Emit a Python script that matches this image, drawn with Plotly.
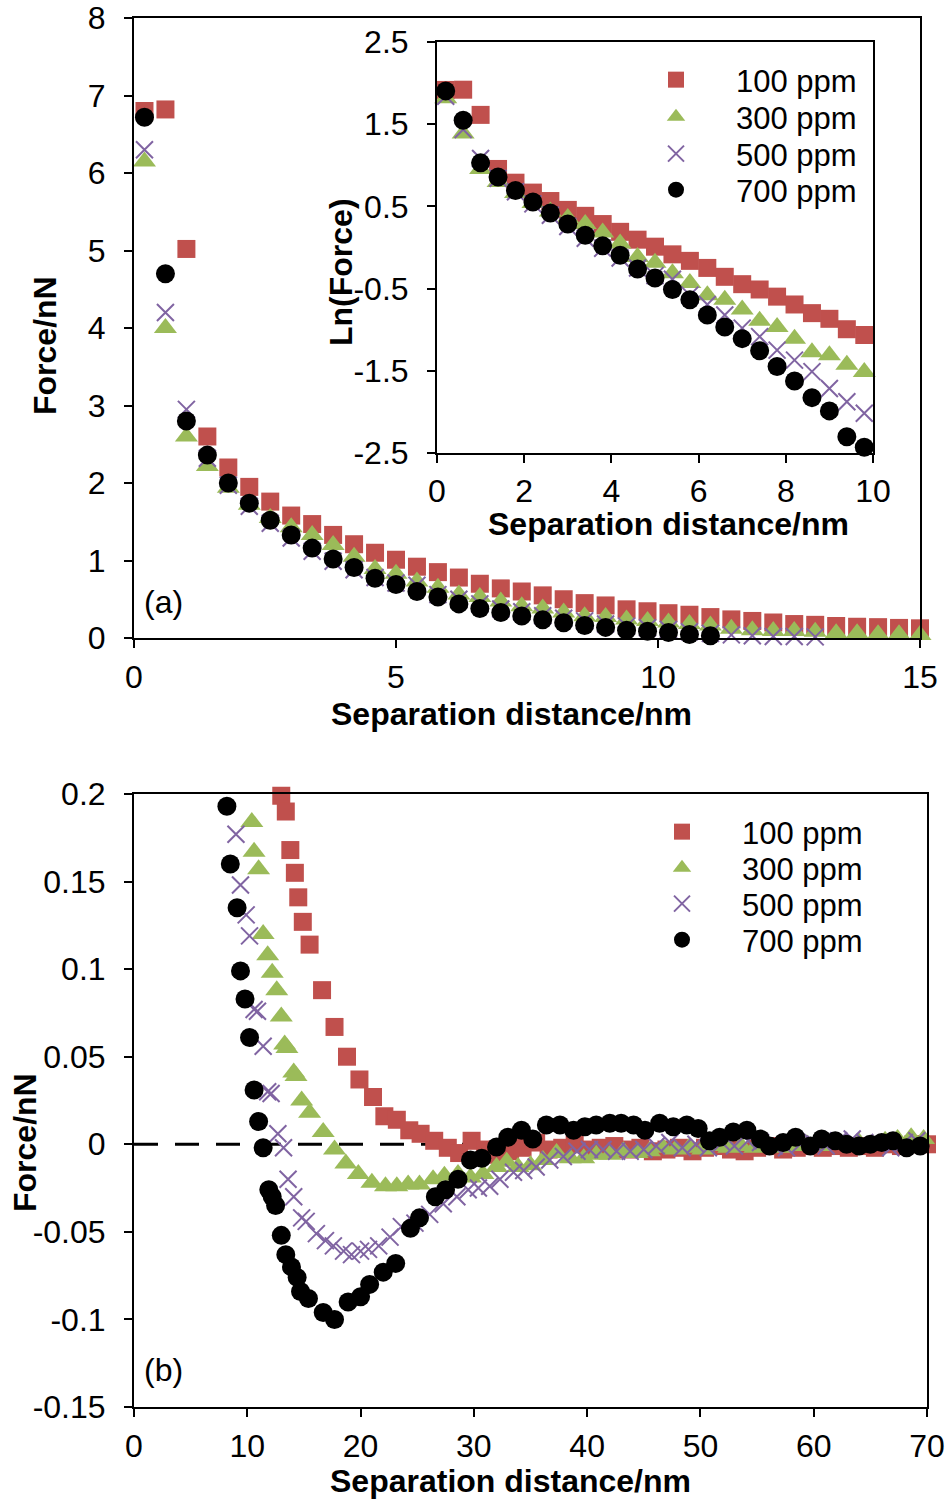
import numpy as np
import plotly.graph_objects as go

W, H = 947, 1500

# ---------------- data ----------------
series_names = ["100 ppm", "300 ppm", "500 ppm", "700 ppm"]
colors = ["#C0504D", "#9BBB59", "#8064A2", "#000000"]

# panel (a): separation distance (nm) and force (nN)
sep_a = [0.2, 0.6, 1.0, 1.4, 1.8, 2.2, 2.6, 3.0, 3.4, 3.8, 4.2, 4.6, 5.0, 5.4,
         5.8, 6.2, 6.6, 7.0, 7.4, 7.8, 8.2, 8.6, 9.0, 9.4, 9.8, 10.2, 10.6,
         11.0, 11.4, 11.8, 12.2, 12.6, 13.0, 13.4, 13.8, 14.2, 14.6, 15.0]

force_100 = [6.80, 6.82, 5.02, 2.60, 2.20, 1.95, 1.76, 1.58, 1.47, 1.33, 1.21,
             1.10, 1.01, 0.92, 0.85, 0.78, 0.70, 0.64, 0.60, 0.55, 0.50, 0.45,
             0.42, 0.37, 0.345, 0.32, 0.30, 0.27, 0.24, 0.22, 0.20, 0.18, 0.17,
             0.155, 0.145, 0.14, 0.13, 0.125]
force_300 = [6.15, 4.00, 2.60, 2.22, 1.94, 1.72, 1.55, 1.43, 1.33, 1.20, 1.05,
             0.89, 0.83, 0.73, 0.65, 0.56, 0.53, 0.47, 0.41, 0.38, 0.33, 0.28,
             0.27, 0.24, 0.22, 0.20, 0.18, 0.16, 0.12, 0.10, 0.09, 0.09, 0.08,
             0.06, 0.06, 0.05, 0.05, 0.04]
force_500 = [6.30, 4.20, 2.95, 2.32, 1.97, 1.70, 1.48, 1.29, 1.12, 0.99, 0.88,
             0.78, 0.71, 0.68, 0.56, 0.50, 0.44, 0.375, 0.338, 0.287, 0.254,
             0.221, 0.180, 0.153, 0.133, 0.11, 0.08, 0.06, 0.04, 0.03, 0.02,
             0.02, 0.015]
force_700 = [6.72, 4.70, 2.80, 2.36, 2.00, 1.74, 1.52, 1.33, 1.16, 1.02, 0.91,
             0.77, 0.69, 0.60, 0.53, 0.44, 0.38, 0.33, 0.285, 0.235, 0.197,
             0.161, 0.137, 0.100, 0.088, 0.07, 0.045, 0.03]

# panel (b): long-range force profiles
sep_b_100 = [13.0, 13.4, 13.8, 14.2, 14.5, 14.9, 15.5, 16.6, 17.7, 18.8, 19.9,
             21.1, 22.1, 23.2, 24.3, 25.3, 26.5, 27.7, 28.7, 29.8, 31.0, 32.1,
             33.2, 34.3, 35.5, 36.6, 37.8, 38.9, 40.1, 41.2, 42.4, 43.5, 44.7,
             45.8, 47.0, 48.1, 49.3, 50.4, 51.6, 52.7, 53.9, 55.0, 56.2, 57.3,
             58.5, 59.6, 60.8, 61.9, 63.1, 64.2, 65.4, 66.5, 67.7, 68.8, 70.0]
force_b_100 = [0.199, 0.190, 0.168, 0.155, 0.141, 0.127, 0.114, 0.088, 0.067,
               0.050, 0.037, 0.027, 0.016, 0.014, 0.008, 0.006, 0.002, -0.002,
               -0.005, 0.002, -0.003, -0.006, -0.004, -0.002, 0.001, -0.003,
               -0.002, 0.000, -0.003, -0.002, -0.001, -0.003, -0.002, -0.004,
               -0.003, -0.002, -0.004, -0.002, -0.001, -0.003, -0.004, -0.002,
               -0.001, -0.003, -0.002, -0.001, -0.002, -0.001, -0.002, -0.001,
               -0.002, 0.000, -0.001, 0.000, 0.000]

sep_b_300 = [10.4, 10.6, 11.0, 11.4, 11.8, 12.2, 12.6, 13.0, 13.3, 13.5, 14.1,
             14.3, 14.8, 15.5, 16.7, 17.7, 18.7, 19.8, 21.0, 22.2, 23.2, 24.2,
             25.2, 26.4, 27.4, 28.6, 29.7, 30.8, 32.0, 32.9, 33.9, 35.0, 36.1,
             37.3, 38.5, 39.7, 40.8, 42.0, 43.2, 44.4, 45.5, 46.7, 47.8, 49.0,
             50.2, 51.3, 52.5, 53.6, 54.8, 55.9, 57.1, 58.2, 59.4, 60.5, 61.7,
             62.8, 64.0, 65.1, 66.3, 67.4, 68.6, 69.7]
force_b_300 = [0.184, 0.167, 0.157, 0.120, 0.108, 0.098, 0.088, 0.073, 0.057,
               0.055, 0.041, 0.039, 0.025, 0.018, 0.007, -0.003, -0.011, -0.017,
               -0.022, -0.024, -0.024, -0.023, -0.023, -0.020, -0.018, -0.017,
               -0.019, -0.017, -0.013, -0.010, -0.013, -0.012, -0.009, -0.005,
               -0.008, -0.008, -0.006, -0.006, -0.004, -0.005, -0.004, -0.002,
               -0.003, -0.002, -0.003, -0.001, -0.002, -0.001, -0.002, 0.000,
               -0.002, -0.001, 0.000, -0.001, 0.001, 0.000, 0.001, 0.000, 0.002,
               0.003, 0.004, 0.003]

sep_b_500 = [9.0, 9.4, 9.9, 10.2, 10.6, 10.9, 11.4, 11.8, 12.1, 12.7, 13.2,
             13.6, 14.1, 14.8, 15.2, 16.1, 16.9, 17.6, 18.5, 19.2, 20.0, 20.7,
             21.6, 22.6, 23.6, 24.8, 26.1, 27.3, 28.5, 29.5, 30.4, 31.4, 32.3,
             33.5, 34.4, 35.5, 36.7, 37.9, 39.1, 40.2, 41.4, 42.6, 43.8, 45.0,
             46.1, 47.3, 48.4, 49.6, 50.7, 51.9, 53.0, 54.2, 55.3, 56.5, 57.6,
             58.8, 59.9, 61.1, 62.2, 63.4, 64.5, 65.7, 66.8, 68.0, 69.1]
force_b_500 = [0.177, 0.148, 0.131, 0.119, 0.077, 0.076, 0.056, 0.030, 0.029,
               0.006, -0.002, -0.020, -0.030, -0.042, -0.044, -0.051, -0.055,
               -0.058, -0.061, -0.063, -0.061, -0.060, -0.058, -0.053, -0.047,
               -0.045, -0.040, -0.034, -0.030, -0.026, -0.025, -0.024, -0.020,
               -0.016, -0.015, -0.013, -0.009, -0.007, -0.004, -0.003, -0.003,
               -0.004, -0.004, -0.003, -0.001, 0.001, -0.002, 0.000, -0.002,
               0.001, -0.001, 0.002, 0.001, -0.001, -0.002, 0.000, 0.001, -0.001,
               0.002, 0.003, 0.001, 0.000, -0.002, 0.001, 0.002]

sep_b_700 = [8.2, 8.5, 9.1, 9.4, 9.8, 10.2, 10.6, 11.0, 11.4, 11.9, 12.2, 12.5,
             13.0, 13.4, 13.9, 14.4, 14.7, 15.4, 16.7, 17.7, 18.9, 20.0, 20.8,
             22.0, 23.1, 24.4, 25.2, 26.6, 27.5, 28.6, 29.7, 30.7, 32.0, 33.0,
             34.2, 35.2, 36.4, 37.6, 38.8, 39.8, 40.8, 42.0, 43.0, 44.1, 45.1,
             46.4, 47.6, 48.8, 49.8, 50.8, 51.7, 52.9, 54.1, 55.3, 56.1, 57.3,
             58.4, 59.7, 60.7, 61.9, 62.9, 64.0, 65.0, 66.0, 67.0, 68.2, 69.4]
force_b_700 = [0.193, 0.160, 0.135, 0.099, 0.083, 0.061, 0.031, 0.013, -0.002,
               -0.026, -0.030, -0.035, -0.052, -0.063, -0.070, -0.076, -0.084,
               -0.088, -0.096, -0.100, -0.090, -0.087, -0.080, -0.073, -0.068,
               -0.048, -0.042, -0.030, -0.026, -0.020, -0.009, -0.008, -0.0015,
               0.004, 0.008, 0.003, 0.011, 0.011, 0.008, 0.010, 0.011, 0.012,
               0.012, 0.011, 0.008, 0.012, 0.010, 0.011, 0.009, 0.002, 0.004,
               0.007, 0.008, 0.003, -0.001, 0.001, 0.004, -0.001, 0.003, 0.002,
               0.000, -0.001, 0.000, 0.001, 0.002, -0.002, -0.001]

# tick labels
ticks_a_x = [0, 5, 10, 15]
ticks_a_y = [0, 1, 2, 3, 4, 5, 6, 7, 8]
ticks_in_x = [0, 2, 4, 6, 8, 10]
ticks_in_y = [-2.5, -1.5, -0.5, 0.5, 1.5, 2.5]
ticks_in_y_text = ["-2.5", "-1.5", "-0.5", "0.5", "1.5", "2.5"]
ticks_b_x = [0, 10, 20, 30, 40, 50, 60, 70]
ticks_b_y = [-0.15, -0.1, -0.05, 0, 0.05, 0.1, 0.15, 0.2]
ticks_b_y_text = ["-0.15", "-0.1", "-0.05", "0", "0.05", "0.1", "0.15", "0.2"]

# ---------------- styling ----------------
FONT = "Liberation Sans, Arial, sans-serif"
FS = 32
LEG_FS = 31


def marker_style(i):
    c = colors[i]
    if i == 0:
        return dict(symbol="square", size=18, color=c, line=dict(width=0))
    if i == 1:
        return dict(symbol="triangle-up", size=20, color=c, line=dict(width=0))
    if i == 2:
        return dict(symbol="x-thin-open", size=17, color=c, line=dict(width=2, color=c))
    return dict(symbol="circle", size=19, color=c, line=dict(width=0))


def px_x(p):
    return p / W


def px_y(p):
    return 1 - p / H


fig = go.Figure()

forces_a = [force_100, force_300, force_500, force_700]
sep_b = [sep_b_100, sep_b_300, sep_b_500, sep_b_700]
forces_b = [force_b_100, force_b_300, force_b_500, force_b_700]

# one single-entry legend per row, so each row can be placed on its own
inset_legend_ids = ["legend", "legend2", "legend3", "legend4"]
lower_legend_ids = ["legend5", "legend6", "legend7", "legend8"]
inset_rows = [80, 117, 154, 190]
lower_rows = [832, 868, 904, 940]

# panel (a) main
for i, f in enumerate(forces_a):
    fig.add_trace(go.Scatter(x=sep_a[:len(f)], y=f, mode="markers",
                             marker=marker_style(i), name=series_names[i],
                             showlegend=False, cliponaxis=False,
                             xaxis="x", yaxis="y"))

# inset: natural log of force for separations up to 10 nm
for i, f in enumerate(forces_a):
    xs = [s for s in sep_a[:len(f)] if s <= 10]
    ys = np.log(np.array(f[:len(xs)]))
    fig.add_trace(go.Scatter(x=xs, y=ys, mode="markers",
                             marker=marker_style(i), name=series_names[i],
                             showlegend=True, legend=inset_legend_ids[i],
                             cliponaxis=False, xaxis="x3", yaxis="y3"))

# panel (b): zero reference line
fig.add_trace(go.Scatter(x=[0, 70], y=[0, 0], mode="lines",
                         line=dict(color="black", width=3, dash="24px,17px"),
                         showlegend=False, hoverinfo="skip",
                         xaxis="x2", yaxis="y2"))
for i in range(4):
    fig.add_trace(go.Scatter(x=sep_b[i], y=forces_b[i], mode="markers",
                             marker=marker_style(i), name=series_names[i],
                             showlegend=True, legend=lower_legend_ids[i],
                             cliponaxis=False, xaxis="x2", yaxis="y2"))

axis_common = dict(showgrid=False, zeroline=False, showline=True, mirror=True,
                   linecolor="black", linewidth=2, ticks="outside", ticklen=8,
                   tickwidth=2, tickcolor="black",
                   tickfont=dict(family=FONT, size=FS, color="black"))

legend_layout = {}
for lid, row in zip(inset_legend_ids, inset_rows):
    legend_layout[lid] = dict(x=px_x(616), y=px_y(row), xanchor="left",
                              yanchor="middle", bgcolor="rgba(0,0,0,0)",
                              borderwidth=0, itemwidth=110,
                              font=dict(family=FONT, size=LEG_FS, color="black"))
for lid, row in zip(lower_legend_ids, lower_rows):
    legend_layout[lid] = dict(x=px_x(622), y=px_y(row), xanchor="left",
                              yanchor="middle", bgcolor="rgba(0,0,0,0)",
                              borderwidth=0, itemwidth=110,
                              font=dict(family=FONT, size=LEG_FS, color="black"))

fig.update_layout(
    width=W, height=H, autosize=False,
    margin=dict(l=0, r=0, t=0, b=0),
    template="none",
    paper_bgcolor="white", plot_bgcolor="white",
    font=dict(family=FONT, size=FS, color="black"),
    xaxis=dict(domain=[px_x(134), px_x(920)], anchor="y", range=[0, 15],
               tickvals=ticks_a_x, ticklabelstandoff=2, **axis_common),
    yaxis=dict(domain=[px_y(638), px_y(18)], anchor="x", range=[0, 8],
               tickvals=ticks_a_y, ticklabelstandoff=12, **axis_common),
    xaxis2=dict(domain=[px_x(134), px_x(927)], anchor="y2", range=[0, 70],
                tickvals=ticks_b_x, ticklabelstandoff=2, **axis_common),
    yaxis2=dict(domain=[px_y(1407), px_y(794)], anchor="x2", range=[-0.15, 0.2],
                tickvals=ticks_b_y, ticktext=ticks_b_y_text,
                ticklabelstandoff=12, **axis_common),
    xaxis3=dict(domain=[px_x(437), px_x(873)], anchor="y3", range=[0, 10],
                tickvals=ticks_in_x, ticklabelstandoff=1, **axis_common),
    yaxis3=dict(domain=[px_y(453), px_y(42)], anchor="x3", range=[-2.5, 2.5],
                tickvals=ticks_in_y, ticktext=ticks_in_y_text,
                ticklabelstandoff=12, **axis_common),
    **legend_layout,
)

title_font = dict(family=FONT, size=FS, color="black", weight="bold")
label_font = dict(family=FONT, size=FS, color="black")


def add_text(text, x, y, font, angle=0, xanchor="center"):
    fig.add_annotation(text=text, x=px_x(x), y=px_y(y), xref="paper", yref="paper",
                       showarrow=False, textangle=angle, font=font,
                       xanchor=xanchor, yanchor="middle")


add_text("Separation distance/nm", 511, 714, title_font)
add_text("Force/nN", 45, 346, title_font, angle=-90)
add_text("Separation distance/nm", 668, 524, title_font)
add_text("Ln(Force)", 341, 272, title_font, angle=-90)
add_text("Separation distance/nm", 510, 1481, title_font)
add_text("Force/nN", 25, 1143, title_font, angle=-90)
add_text("(a)", 142, 602, label_font, xanchor="left")
add_text("(b)", 142, 1370, label_font, xanchor="left")

fig.write_html("out.html")
